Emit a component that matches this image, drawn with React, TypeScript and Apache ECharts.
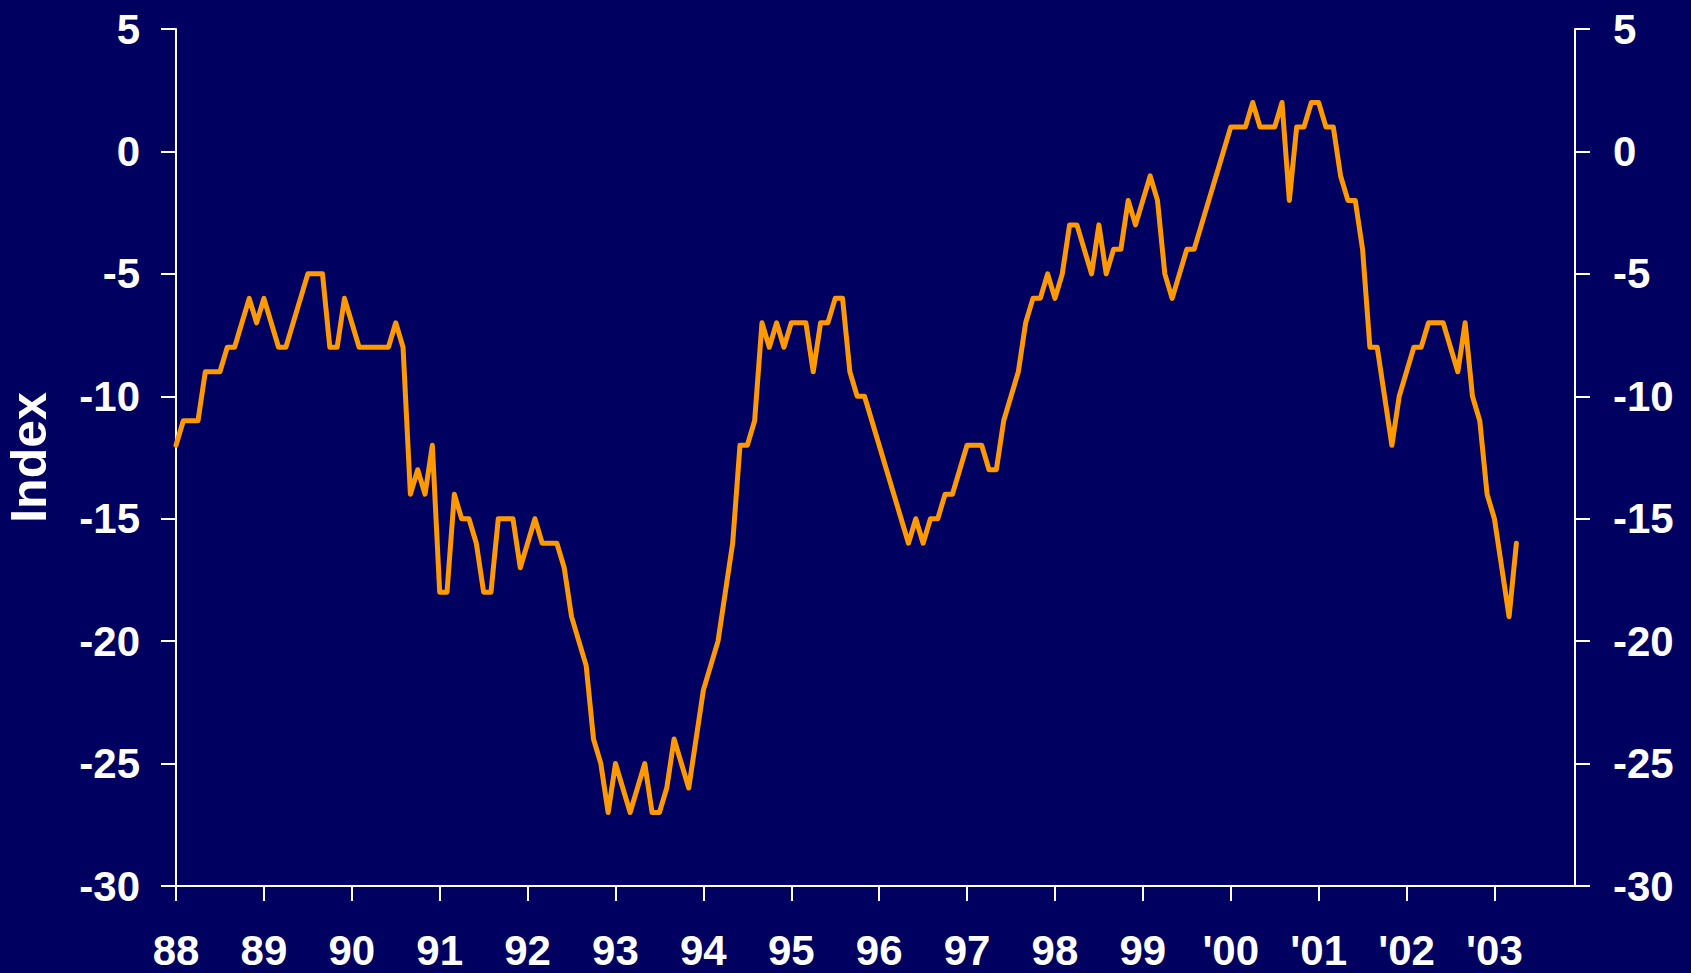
import React, { useEffect, useRef } from "react";
import * as echarts from "echarts";

// X tick labels (one per January)
const yearLabels = ["88", "89", "90", "91", "92", "93", "94", "95", "96", "97", "98", "99", "'00", "'01", "'02", "'03"];
const monthNames = ["Jan", "Feb", "Mar", "Apr", "May", "Jun", "Jul", "Aug", "Sep", "Oct", "Nov", "Dec"];
const categories = yearLabels.flatMap((y) => monthNames.map((m) => `${m} ${y}`));

// Monthly index values, Jan 88 .. Apr 03
const indexValues = [
  -12, -11, -11, -11, -9, -9, -9, -8, -8, -7, -6, -7,
  -6, -7, -8, -8, -7, -6, -5, -5, -5, -8, -8, -6,
  -7, -8, -8, -8, -8, -8, -7, -8, -14, -13, -14, -12,
  -18, -18, -14, -15, -15, -16, -18, -18, -15, -15, -15, -17,
  -16, -15, -16, -16, -16, -17, -19, -20, -21, -24, -25, -27,
  -25, -26, -27, -26, -25, -27, -27, -26, -24, -25, -26, -24,
  -22, -21, -20, -18, -16, -12, -12, -11, -7, -8, -7, -8,
  -7, -7, -7, -9, -7, -7, -6, -6, -9, -10, -10, -11,
  -12, -13, -14, -15, -16, -15, -16, -15, -15, -14, -14, -13,
  -12, -12, -12, -13, -13, -11, -10, -9, -7, -6, -6, -5,
  -6, -5, -3, -3, -4, -5, -3, -5, -4, -4, -2, -3,
  -2, -1, -2, -5, -6, -5, -4, -4, -3, -2, -1, 0,
  1, 1, 1, 2, 1, 1, 1, 2, -2, 1, 1, 2,
  2, 1, 1, -1, -2, -2, -4, -8, -8, -10, -12, -10,
  -9, -8, -8, -7, -7, -7, -8, -9, -7, -10, -11, -14,
  -15, -17, -19, -16,
];

const yMin = -30;
const yMax = 5;
const yStep = 5;

const BG = "#000060";
const FONT = "'Liberation Sans', Arial, Helvetica, sans-serif";

export default function App() {
  const ref = useRef<HTMLDivElement>(null);

  useEffect(() => {
    if (!ref.current) return;
    const chart = echarts.init(ref.current, undefined, { renderer: "svg" });
    const labelStyle = {
      color: "#ffffff",
      fontFamily: FONT,
      fontWeight: "bold" as const,
      fontSize: 42,
    };
    const yAxisCommon = {
      type: "value" as const,
      min: yMin,
      max: yMax,
      interval: yStep,
      splitLine: { show: false },
      axisLine: { show: true, lineStyle: { color: "#ffffff", width: 2 } },
      axisTick: { show: true, length: 15, lineStyle: { color: "#ffffff", width: 2 } },
    };
    chart.setOption({
      animation: false,
      backgroundColor: BG,
      grid: {
        left: 176,
        right: 116,
        top: 29,
        bottom: 87,
        containLabel: false,
        outerBoundsMode: "none",
      },
      xAxis: {
        type: "category",
        data: categories,
        boundaryGap: false,
        axisLine: { show: true, onZero: false, lineStyle: { color: "#ffffff", width: 2 } },
        axisTick: {
          show: true,
          length: 15,
          interval: (i: number) => i % 12 === 0,
          lineStyle: { color: "#ffffff", width: 2 },
        },
        axisLabel: {
          ...labelStyle,
          margin: 43,
          interval: (i: number) => i % 12 === 0,
          formatter: (_v: string, i: number) => yearLabels[Math.floor(i / 12)],
        },
        splitLine: { show: false },
      },
      yAxis: [
        {
          ...yAxisCommon,
          position: "left",
          name: "Index",
          nameLocation: "middle",
          nameGap: 122,
          nameRotate: 90,
          nameTextStyle: { color: "#ffffff", fontFamily: FONT, fontWeight: "bold", fontSize: 50 },
          axisLabel: { ...labelStyle, margin: 36 },
        },
        {
          ...yAxisCommon,
          position: "right",
          axisLabel: { ...labelStyle, margin: 38 },
        },
      ],
      series: [
        {
          type: "line",
          data: indexValues,
          yAxisIndex: 0,
          showSymbol: false,
          symbol: "none",
          lineStyle: { color: "#FF9900", width: 5, join: "round", cap: "round" },
        },
      ],
    });
    return () => chart.dispose();
  }, []);

  return (
    <div
      ref={ref}
      style={{ position: "fixed", left: 0, top: 0, width: 1691, height: 973, background: BG }}
    />
  );
}
